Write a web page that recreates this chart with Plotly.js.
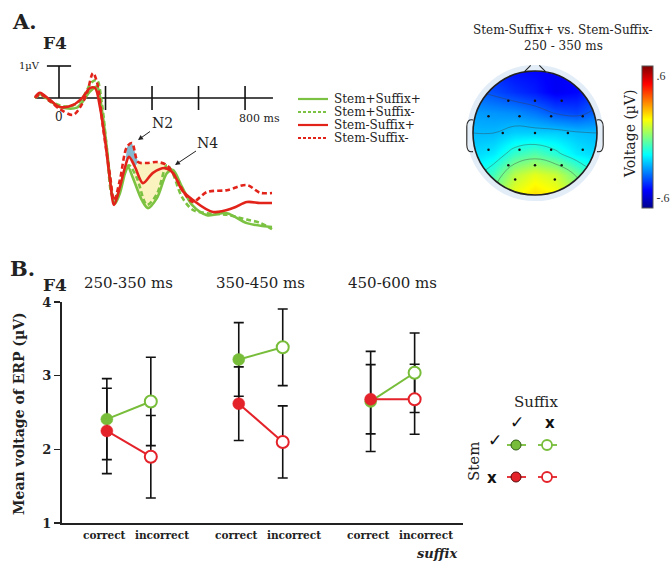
<!DOCTYPE html>
<html>
<head>
<meta charset="utf-8">
<script src="https://cdn.plot.ly/plotly-3.0.1.min.js"></script>
<style>html,body{margin:0;padding:0;background:#fff;}#chart{width:670px;height:562px;}</style>
</head>
<body>
<div id="chart"></div>
<script>
// ---------------- Panel A: ERP waveforms at F4 (time in ms, voltage in µV) ----------------
const stemOkSufOkT = [-103,-82,-39,4,77,133,163,185,206,228,241,262,284,297,318,357,383,421,464,490,529,572,636,722,808,916];
const stemOkSufOkV = [0.0,0.12,-0.08,-0.28,-0.3,0.2,0.36,-0.4,-1.59,-3.0,-3.3,-2.97,-2.35,-2.16,-2.5,-3.2,-3.44,-3.13,-2.35,-2.25,-2.78,-3.34,-3.66,-3.6,-3.91,-4.03];
const stemOkSufErrT = [-103,-82,-39,34,90,142,163,185,206,232,254,284,301,335,378,421,464,486,529,576,636,722,808,864,916];
const stemOkSufErrV = [0.0,0.1,-0.1,-0.27,-0.1,0.5,0.56,-0.2,-1.6,-3.1,-3.0,-2.25,-2.1,-2.5,-3.34,-3.0,-2.1,-2.3,-3.1,-3.5,-3.6,-3.65,-3.8,-3.9,-4.1];
const stemErrSufOkT = [-103,-82,-39,4,60,103,133,155,176,198,219,237,262,284,301,327,361,404,456,490,529,576,662,748,808,864,916];
const stemErrSufOkV = [0.03,0.16,-0.06,-0.28,-0.22,0.03,0.31,0.31,-0.28,-1.31,-2.56,-3.34,-2.78,-2.16,-1.84,-2.16,-2.66,-2.34,-2.19,-2.34,-2.88,-3.19,-3.56,-3.44,-3.25,-3.28,-3.28];
const stemErrSufErrT = [-103,-82,-39,4,60,90,120,146,163,189,219,237,262,292,314,340,378,421,464,507,550,576,636,722,808,864,916];
const stemErrSufErrV = [0.0,0.12,-0.1,-0.35,-0.53,-0.3,0.15,0.78,0.5,-0.9,-2.4,-3.2,-2.56,-1.53,-1.41,-2.0,-2.03,-2.0,-2.1,-2.56,-3.09,-3.25,-2.94,-2.88,-2.72,-2.96,-2.97];
const waveNames = ['Stem+Suffix+','Stem+Suffix-','Stem-Suffix+','Stem-Suffix-'];
const timeTicks = [200,400,600,800];
const n2Window = [284, 345];
const n4Window = [300, 530];

// ---------------- Topographic map (Stem-Suffix+ vs Stem-Suffix-, 250-350 ms) ----------------
const topoX = [-1,-0.667,-0.333,0,0.333,0.667,1];
const topoY = [-1,-0.667,-0.333,0,0.333,0.667,1];
const topoZ = [
  [-0.12, 0.02, 0.16, 0.22, 0.18, 0.06,-0.06],
  [-0.18,-0.08, 0.08, 0.14, 0.10,-0.02,-0.14],
  [-0.23,-0.20,-0.10,-0.06,-0.12,-0.20,-0.23],
  [-0.27,-0.27,-0.24,-0.24,-0.24,-0.26,-0.27],
  [-0.31,-0.32,-0.33,-0.36,-0.41,-0.43,-0.38],
  [-0.39,-0.42,-0.46,-0.49,-0.54,-0.52,-0.45],
  [-0.45,-0.48,-0.51,-0.52,-0.54,-0.52,-0.47]
];
const elecX = [-0.31,0.31,-0.83,-0.43,0,0.43,0.83,-0.75,-0.25,0.26,0.77,-1.04,-0.52,0,0.53,1.04,-0.75,-0.25,0.26,0.77,-0.83,-0.43,0,0.43,0.83,-0.32,0.32,-0.31,0.31];
const elecY = [0.97,0.97,0.6,0.52,0.52,0.52,0.6,0.27,0.27,0.27,0.27,0,0,0,0,0,-0.27,-0.27,-0.27,-0.27,-0.6,-0.52,-0.52,-0.52,-0.6,-0.75,-0.75,-0.97,-0.97];

// ---------------- Panel B: mean ERP voltage at F4 ----------------
const windows = ['250-350 ms','350-450 ms','450-600 ms'];
const suffixCats = ['correct','incorrect'];
const stemOkSufOk   = [2.41, 3.22, 2.65];
const stemOkSufOkE  = [0.55, 0.50, 0.68];
const stemOkSufErr  = [2.65, 3.385, 3.04];
const stemOkSufErrE = [0.60, 0.52, 0.54];
const stemErrSufOk   = [2.25, 2.62, 2.68];
const stemErrSufOkE  = [0.58, 0.50, 0.47];
const stemErrSufErr  = [1.90, 2.10, 2.68];
const stemErrSufErrE = [0.56, 0.49, 0.475];

// ---------------- helpers ----------------
const W = 670, H = 562;
const px = v => v / W, py = v => 1 - v / H;
const SERIF = "'DejaVu Serif', 'Liberation Serif', serif";
const GREEN = '#7cc242', RED = '#e2231a';
const BG = '#77bd3a', BR = '#e4222a';
const JET = [[0,'#00008f'],[0.125,'#0000ff'],[0.375,'#00ffff'],[0.625,'#ffff00'],[0.875,'#ff0000'],[1,'#800000']];

const traces = [];

function windowPts(T, V, w) {
  const t = [], v = [];
  T.forEach((x, i) => { if (x >= w[0] && x <= w[1]) { t.push(x); v.push(V[i]); } });
  return {t, v};
}
function polyFill(a, b, color) {
  const t = a.t.concat(b.t.slice().reverse());
  const v = a.v.concat(b.v.slice().reverse());
  t.push(t[0]); v.push(v[0]);
  return {type:'scatter', x:t, y:v, mode:'lines', fill:'toself', fillcolor:color,
          line:{width:0, color:color}, xaxis:'x', yaxis:'y', hoverinfo:'skip'};
}
traces.push(polyFill(windowPts(stemErrSufErrT, stemErrSufErrV, [330, 515]),
                     windowPts(stemOkSufOkT, stemOkSufOkV, n4Window), '#fbf3bf'));
traces.push(polyFill(windowPts(stemErrSufErrT, stemErrSufErrV, [285, 345]),
                     windowPts(stemErrSufOkT, stemErrSufOkV, n2Window), '#86b9cf'));

const waves = [
  {t:stemOkSufErrT, v:stemOkSufErrV, c:GREEN, d:'5px,3px'},
  {t:stemOkSufOkT,  v:stemOkSufOkV,  c:GREEN, d:'solid'},
  {t:stemErrSufOkT, v:stemErrSufOkV, c:RED,   d:'solid'},
  {t:stemErrSufErrT,v:stemErrSufErrV,c:RED,   d:'5px,3px'}
];
waves.forEach(w => traces.push({type:'scatter', x:w.t, y:w.v, mode:'lines',
  line:{color:w.c, width:2.6, dash:w.d, shape:'spline', smoothing:0.9},
  xaxis:'x', yaxis:'y', hoverinfo:'skip'}));

traces.push({type:'heatmap', x:topoX, y:topoY, z:topoZ, zsmooth:'best',
  colorscale:JET, zmin:-0.7, zmax:0.7, xaxis:'x2', yaxis:'y2', hoverinfo:'skip',
  colorbar:{x:px(642), xanchor:'left', y:py(137), yanchor:'middle', len:142/H, lenmode:'fraction',
    thickness:11, thicknessmode:'pixels', outlinewidth:1, outlinecolor:'#555',
    tickvals:[-0.6,0.6], ticktext:['-.6','.6'], ticks:'', xpad:0, ypad:0,
    tickfont:{family:"'Liberation Serif', serif", size:12, color:'#333'}}});
traces.push({type:'contour', x:topoX, y:topoY, z:topoZ, xaxis:'x2', yaxis:'y2',
  showscale:false, hoverinfo:'skip',
  contours:{coloring:'none', start:-0.4, end:0.1, size:0.13},
  line:{color:'rgba(60,60,60,0.5)', width:0.8, smoothing:1.2}});
traces.push({type:'scatter', x:elecX, y:elecY, mode:'markers', xaxis:'x2', yaxis:'y2',
  marker:{size:2.5, color:'#111'}, hoverinfo:'skip', cliponaxis:false});

const xOf = (i, j) => 3 * i + 1 + j;
function errTrace(j, vals, errs) {
  return {type:'scatter', x:windows.map((w, i) => xOf(i, j)), y:vals, mode:'markers',
    marker:{size:2, color:'rgba(0,0,0,0)'}, xaxis:'x3', yaxis:'y3', hoverinfo:'skip',
    error_y:{type:'data', array:errs, color:'#111', thickness:1.6, width:5}};
}
traces.push(errTrace(0, stemOkSufOk, stemOkSufOkE));
traces.push(errTrace(1, stemOkSufErr, stemOkSufErrE));
traces.push(errTrace(0, stemErrSufOk, stemErrSufOkE));
traces.push(errTrace(1, stemErrSufErr, stemErrSufErrE));
function lineTrace(a, b, color) {
  const x = [], y = [];
  windows.forEach((w, i) => { x.push(xOf(i, 0), xOf(i, 1), null); y.push(a[i], b[i], null); });
  return {type:'scatter', x, y, mode:'lines', line:{color, width:2}, xaxis:'x3', yaxis:'y3',
    connectgaps:false, hoverinfo:'skip'};
}
function markTrace(j, vals, color, filled) {
  return {type:'scatter', x:windows.map((w, i) => xOf(i, j)), y:vals, mode:'markers',
    marker:{size:12, color: filled ? color : '#fff', line:{color, width: filled ? 0.5 : 2}},
    xaxis:'x3', yaxis:'y3', hoverinfo:'skip', cliponaxis:false};
}
traces.push(lineTrace(stemOkSufOk, stemOkSufErr, BG));
traces.push(markTrace(0, stemOkSufOk, BG, true));
traces.push(markTrace(1, stemOkSufErr, BG, false));
traces.push(lineTrace(stemErrSufOk, stemErrSufErr, BR));
traces.push(markTrace(0, stemErrSufOk, BR, true));
traces.push(markTrace(1, stemErrSufErr, BR, false));

const shapes = [];
shapes.push({type:'line', xref:'x', yref:'y', x0:-100, x1:920, y0:0, y1:0, line:{color:'#111', width:1.6}, layer:'below'});
timeTicks.forEach(t => shapes.push({type:'line', xref:'x', yref:'y', x0:t, x1:t, y0:-0.375, y1:0.375, line:{color:'#111', width:1.6}, layer:'below'}));
shapes.push({type:'line', xref:'x', yref:'y', x0:0, x1:0, y0:0, y1:1, line:{color:'#111', width:1.6}, layer:'below'});
shapes.push({type:'line', xref:'x', yref:'y', x0:-52, x1:52, y0:1, y1:1, line:{color:'#111', width:1.6}, layer:'below'});
const legRows = [99, 112, 125, 138];
waves.forEach((w, k) => {
  const order = [1, 0, 2, 3][k];
  shapes.push({type:'line', xref:'paper', yref:'paper', x0:px(298), x1:px(328), y0:py(legRows[order]), y1:py(legRows[order]),
    line:{color:w.c, width:2.2, dash: w.d === 'solid' ? 'solid' : '3px,2px'}});
});
shapes.push({type:'circle', xref:'x2', yref:'y2', x0:-1.371, x1:1.371, y0:-1.371, y1:1.371, line:{color:'#fff', width:46}, fillcolor:'rgba(0,0,0,0)'});
shapes.push({type:'circle', xref:'x2', yref:'y2', x0:-1.05, x1:1.05, y0:-1.05, y1:1.05, line:{color:'#e2edf8', width:6}, fillcolor:'rgba(0,0,0,0)'});
shapes.push({type:'circle', xref:'x2', yref:'y2', x0:-1, x1:1, y0:-1, y1:1, line:{color:'#222', width:1.6}, fillcolor:'rgba(0,0,0,0)'});
shapes.push({type:'path', xref:'x2', yref:'y2', path:'M -0.17,0.99 L -0.07,1.09 M 0.07,1.09 L 0.17,0.99', line:{color:'#222', width:1.1}});
shapes.push({type:'path', xref:'x2', yref:'y2', path:'M -1.0,0.21 Q -1.1,0.23 -1.1,0.1 L -1.1,-0.19 Q -1.1,-0.32 -1.0,-0.3', line:{color:'#222', width:1.1}});
shapes.push({type:'path', xref:'x2', yref:'y2', path:'M 1.0,0.21 Q 1.1,0.23 1.1,0.1 L 1.1,-0.19 Q 1.1,-0.32 1.0,-0.3', line:{color:'#222', width:1.1}});
[[445, BG], [477, BR]].forEach(([yy, col]) => {
  shapes.push({type:'line', xref:'paper', yref:'paper', x0:px(507), x1:px(526), y0:py(yy), y1:py(yy), line:{color:col, width:1.8}});
  shapes.push({type:'line', xref:'paper', yref:'paper', x0:px(538), x1:px(557), y0:py(yy), y1:py(yy), line:{color:col, width:1.8}});
  shapes.push({type:'circle', xref:'paper', yref:'paper', xsizemode:'pixel', ysizemode:'pixel',
    xanchor:px(516), yanchor:py(yy), x0:-5, x1:5, y0:-5, y1:5, fillcolor:col, line:{color: col === BG ? '#2f5a14' : '#5a0a0a', width:1}});
  shapes.push({type:'circle', xref:'paper', yref:'paper', xsizemode:'pixel', ysizemode:'pixel',
    xanchor:px(547), yanchor:py(yy), x0:-5, x1:5, y0:-5, y1:5, fillcolor:'#fff', line:{color:col, width:1.8}});
});

const ann = [];
function P(x, y, text, size, opts) {
  ann.push(Object.assign({xref:'paper', yref:'paper', x:px(x), y:py(y), text, showarrow:false,
    xanchor:'center', yanchor:'middle', font:{family:SERIF, size, color:'#222'}}, opts || {}));
}
P(24, 22, '<b>A.</b>', 21);
P(55, 43, '<b>F4</b>', 17);
P(42, 66, '1µV', 10, {xanchor:'right'});
P(59, 117, '0', 12);
P(237, 118, '800 ms', 11, {xanchor:'left'});
waveNames.forEach((n, k) => P(332, legRows[k], n, 12, {xanchor:'left'}));
ann.push({xref:'paper', yref:'paper', x:px(138), y:py(140), ax:24, ay:-17, text:'N2', showarrow:true,
  arrowhead:2, arrowsize:1, arrowwidth:1, arrowcolor:'#222', font:{family:SERIF, size:14, color:'#222'}});
ann.push({xref:'paper', yref:'paper', x:px(175), y:py(165), ax:33, ay:-22, text:'N4', showarrow:true,
  arrowhead:2, arrowsize:1, arrowwidth:1, arrowcolor:'#222', font:{family:SERIF, size:14, color:'#222'}});
P(563, 30, 'Stem-Suffix+ vs. Stem-Suffix-', 12);
P(563, 46, '250 - 350 ms', 12);
P(630, 134, 'Voltage (µV)', 14, {textangle:-90});
P(22, 268, '<b>B.</b>', 21);
P(55, 285, '<b>F4</b>', 17);
windows.forEach((w, i) => ann.push({xref:'x3', yref:'paper', x:xOf(i, 0.5), y:py(283), text:w, showarrow:false,
  xanchor:'center', yanchor:'middle', font:{family:SERIF, size:15, color:'#222'}}));
windows.forEach((w, i) => suffixCats.forEach((s, j) => ann.push({xref:'x3', yref:'paper', x:xOf(i, j), y:py(535),
  xshift: j === 0 ? -2.5 : 11, text:'<b>' + s + '</b>', showarrow:false, xanchor:'center', yanchor:'middle',
  font:{family:SERIF, size:10.5, color:'#222'}})));
P(19, 414, '<b>Mean voltage of ERP (µV)</b>', 14, {textangle:-90});
P(437, 553, '<b><i>suffix</i></b>', 13);
P(536, 402, 'Suffix', 15);
const SYM = {family:'DejaVu Sans', size:17, color:'#111'};
const XS = {family:'DejaVu Sans', size:15, color:'#111'};
P(517, 422, '✓', 17, {font:SYM});
P(550, 423, '<b>x</b>', 15, {font:XS});
P(495, 440, '✓', 17, {font:SYM});
P(492, 478, '<b>x</b>', 15, {font:XS});
P(474, 462, 'Stem', 15, {textangle:-90});

const hidden = {visible:false, showgrid:false, zeroline:false, fixedrange:true};
const layout = {
  width:W, height:H, margin:{l:0, r:0, t:0, b:0, pad:0},
  paper_bgcolor:'#fff', plot_bgcolor:'rgba(0,0,0,0)', showlegend:false,
  xaxis:Object.assign({domain:[px(30), px(285)], range:[(30-59)*4.3, (285-59)*4.3], anchor:'y'}, hidden),
  yaxis:Object.assign({domain:[py(240), py(55)], range:[(98-240)/32, (98-55)/32], anchor:'x'}, hidden),
  xaxis2:Object.assign({domain:[px(460), px(610)], range:[-75/62, 75/62], anchor:'y2'}, hidden),
  yaxis2:Object.assign({domain:[py(208), py(58)], range:[-75/62, 75/62], anchor:'x2'}, hidden),
  xaxis3:{domain:[px(62), px(463)], range:[-0.02, 9.1], anchor:'y3', showline:true, linewidth:2, linecolor:'#222',
    ticks:'', showticklabels:false, showgrid:false, zeroline:false, fixedrange:true},
  yaxis3:{domain:[py(523), py(302)], range:[1, 4], anchor:'x3', showline:true, linewidth:2, linecolor:'#222',
    ticks:'outside', ticklen:6, tickwidth:1.6, tickcolor:'#222', tickvals:[1,2,3,4], ticktext:['<b>1</b>','<b>2</b>','<b>3</b>','<b>4</b>'],
    tickfont:{family:SERIF, size:13, color:'#222'}, showgrid:false, zeroline:false, fixedrange:true},
  shapes, annotations:ann
};
Plotly.newPlot('chart', traces, layout, {staticPlot:true, displayModeBar:false});
</script>
</body>
</html>
